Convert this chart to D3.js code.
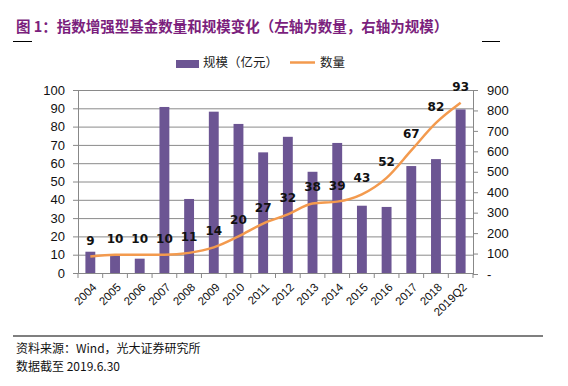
<!DOCTYPE html>
<html>
<head>
<meta charset="utf-8">
<script src="https://cdn.jsdelivr.net/npm/d3@7"></script>
<style>
  body { margin: 0; background: #fff; }
  svg { display: block; }
  .tick text { font-family: "Liberation Sans", Arial, sans-serif; }
</style>
</head>
<body>
<svg id="chart" width="568" height="386"></svg>
<script>
// categories and series
const years = ["2004", "2005", "2006", "2007", "2008", "2009", "2010", "2011", "2012", "2013", "2014", "2015", "2016", "2017", "2018", "2019Q2"];
const scaleValues = [109, 88, 75, 817, 367, 794, 734, 595, 671, 500, 641, 334, 328, 528, 562, 805];   // 规模（亿元）, right axis
const countValues = [9, 10, 10, 10, 11, 14, 20, 27, 32, 38, 39, 43, 52, 67, 82, 93];                  // 数量, left axis
const leftTicks = [0, 10, 20, 30, 40, 50, 60, 70, 80, 90, 100];
const rightTicks = [0, 100, 200, 300, 400, 500, 600, 700, 800, 900];

const barColor = "#6c5593";
const lineColor = "#f39a4e";
const cjk = "'Noto Sans CJK SC', sans-serif";

const svg = d3.select("#chart");
const margin = { left: 78, right: 95, top: 90, bottom: 113 };
const W = 568, H = 386;
const plotW = W - margin.left - margin.right;
const plotH = H - margin.top - margin.bottom;

const g = svg.append("g").attr("transform", `translate(${margin.left},${margin.top})`);

const x = d3.scaleBand().domain(years).range([0, plotW]).paddingInner(0.6).paddingOuter(0.3);
const yL = d3.scaleLinear().domain([0, 100]).range([plotH, 0]);
const yR = d3.scaleLinear().domain([0, 900]).range([plotH + 1, 0]);

// title and rules
svg.append("text")
    .attr("x", 16).attr("y", 32)
    .attr("font-family", cjk).attr("font-size", 14.5).attr("font-weight", "bold")
    .attr("fill", "#7b1f7d")
    .text("图 1：指数增强型基金数量和规模变化（左轴为数量，右轴为规模）");
svg.append("line").attr("x1", 13).attr("x2", 32).attr("y1", 41.5).attr("y2", 41.5).attr("stroke", "#000");
svg.append("line").attr("x1", 482).attr("x2", 500).attr("y1", 41.5).attr("y2", 41.5).attr("stroke", "#000");
svg.append("line").attr("x1", 13).attr("x2", 543).attr("y1", 336).attr("y2", 336).attr("stroke", "#000").attr("stroke-width", 1.2);

// legend
const lg = svg.append("g").attr("font-family", cjk).attr("font-size", 12.5).attr("fill", "#222");
lg.append("rect").attr("x", 176).attr("y", 60).attr("width", 23).attr("height", 8).attr("fill", barColor);
lg.append("text").attr("x", 203).attr("y", 67).text("规模（亿元）");
lg.append("line").attr("x1", 290).attr("x2", 315).attr("y1", 62.5).attr("y2", 62.5).attr("stroke", lineColor).attr("stroke-width", 2.5);
lg.append("text").attr("x", 320).attr("y", 67).text("数量");

// gridlines from the left axis
g.append("g")
    .selectAll("line").data(leftTicks.filter(d => d > 0)).join("line")
    .attr("x1", 0).attr("x2", plotW)
    .attr("y1", d => yL(d) + 0.5).attr("y2", d => yL(d) + 0.5)
    .attr("stroke", "#8a8a8a").attr("stroke-width", 1);

// bars
g.append("g").selectAll("rect").data(years).join("rect")
    .attr("x", d => x(d))
    .attr("width", x.bandwidth())
    .attr("y", (d, i) => yR(scaleValues[i]))
    .attr("height", (d, i) => yR(0) - yR(scaleValues[i]))
    .attr("fill", barColor);

// count line
const line = d3.line()
    .x((d, i) => x(years[i]) + x.bandwidth() / 2)
    .y(d => yL(d))
    .curve(d3.curveMonotoneX);
g.append("path").datum(countValues)
    .attr("d", line)
    .attr("fill", "none")
    .attr("stroke", lineColor)
    .attr("stroke-width", 2.5);

g.append("g").selectAll("text").data(countValues).join("text")
    .attr("x", (d, i) => x(years[i]) + x.bandwidth() / 2)
    .attr("y", d => yL(d) - 12)
    .attr("text-anchor", "middle")
    .attr("font-family", "'DejaVu Sans', sans-serif")
    .attr("font-size", 12).attr("font-weight", "bold")
    .attr("fill", "#111")
    .text(d => d);

// axes
const axL = g.append("g")
    .call(d3.axisLeft(yL).tickValues(leftTicks).tickSize(5).tickPadding(8));
const axR = g.append("g").attr("transform", `translate(${plotW},0)`)
    .call(d3.axisRight(yR).tickValues(rightTicks).tickSize(5).tickPadding(9)
        .tickFormat(d => d === 0 ? "-" : d));
const axB = g.append("g").attr("transform", `translate(0,${plotH})`)
    .call(d3.axisBottom(x).tickSize(0).tickPadding(0));

[axL, axR].forEach(a => {
    a.selectAll("text").attr("font-size", 13).attr("fill", "#111");
    a.selectAll("line, path").attr("stroke", "#888");
});
axB.select(".domain").attr("stroke", "#888");
axB.selectAll(".tick text")
    .attr("font-size", 11.5).attr("fill", "#111")
    .attr("text-anchor", "end")
    .attr("dy", "0.35em")
    .attr("transform", "translate(4,12) rotate(-45)");

// category separators on the bottom axis
const step = x.step();
const x0 = x(years[0]) - x.paddingOuter() * step;
axB.append("g").selectAll("line").data(d3.range(years.length + 1)).join("line")
    .attr("x1", i => x0 + i * step)
    .attr("x2", i => x0 + i * step)
    .attr("y1", 0).attr("y2", 5)
    .attr("stroke", "#888");

// footer
const ft = svg.append("g").attr("font-size", 12).attr("fill", "#111");
ft.append("text").attr("x", 16).attr("y", 353).attr("font-family", cjk).text("资料来源：Wind，光大证券研究所");
ft.append("text").attr("x", 16).attr("y", 371).attr("font-family", cjk).text("数据截至 2019.6.30");
</script>
</body>
</html>
